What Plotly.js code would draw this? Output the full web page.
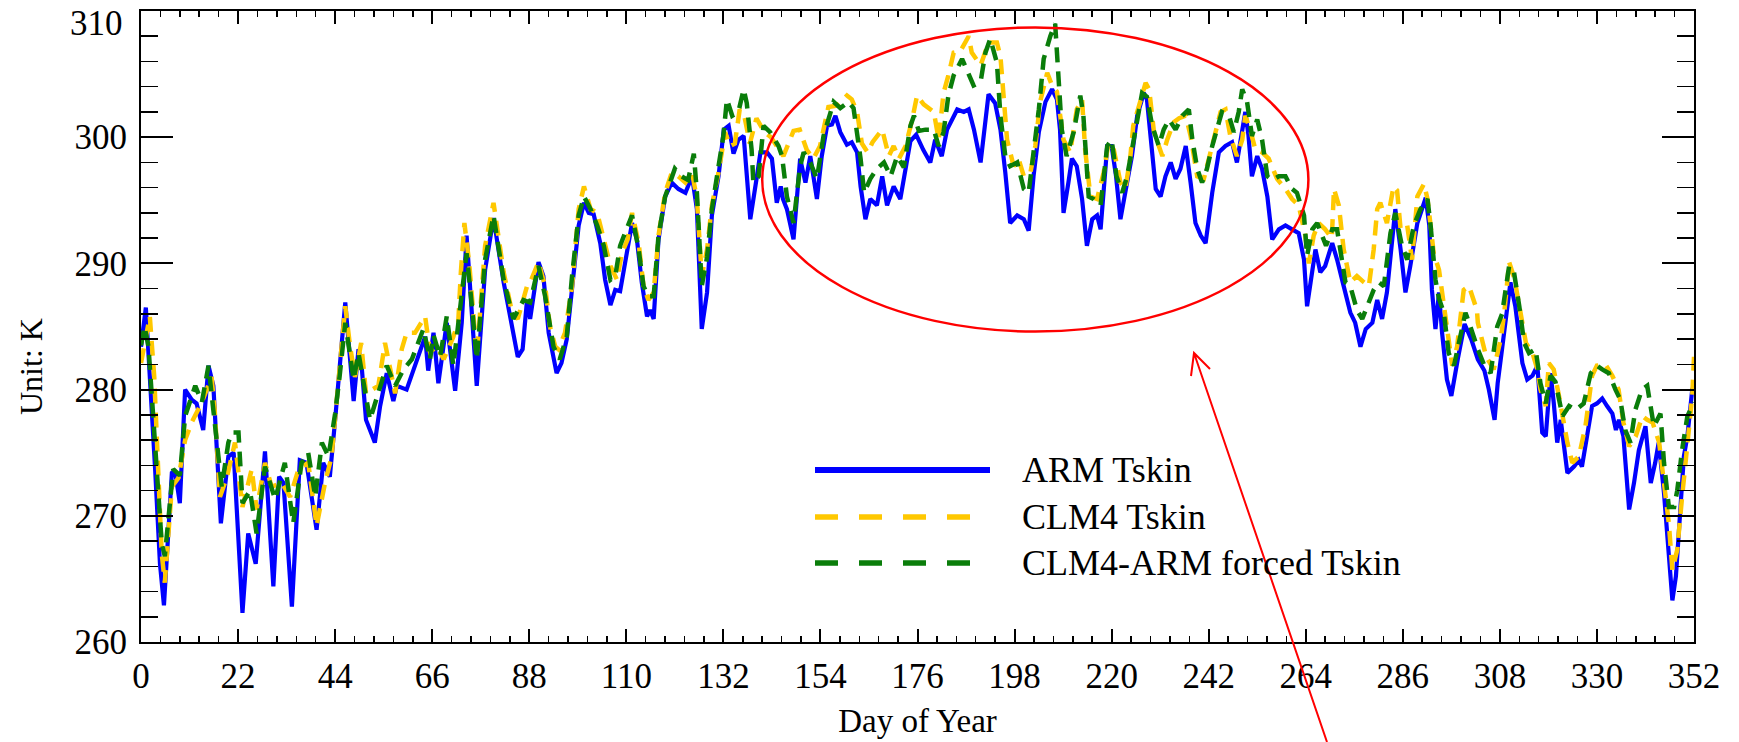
<!DOCTYPE html>
<html>
<head>
<meta charset="utf-8">
<script src="https://cdn.plot.ly/plotly-3.0.1.min.js"></script>
<style>html,body{margin:0;padding:0;background:#fff;}#chart{width:1739px;height:742px;}</style>
</head>
<body>
<div id="chart"></div>
<script>
// ---- Data ----
const seriesNames = ["ARM Tskin", "CLM4 Tskin", "CLM4-ARM forced Tskin"];

const armDay = [0,1.1,3.2,4.3,5.2,7.0,7.7,8.8,10.0,11.5,12.6,14.1,15.3,16.4,18.1,19.8,21.0,23.0,24.3,26.0,28.1,30.0,31.3,32.3,34.2,36.0,37.5,39.8,41.3,42.8,44.0,45.0,46.3,47.0,48.2,49.3,50.0,51.0,53.0,54.2,55.7,57.2,58.0,60.2,62.1,64.4,65.1,66.3,67.4,69.3,71.2,72.7,73.8,74.9,76.1,78.0,79.9,82.2,83.7,85.4,86.5,87.5,88.2,89.2,90.1,91.2,92.4,94.2,95.3,96.5,97.7,99.2,100.4,101.5,102.6,104.1,105.2,106.4,107.5,108.6,110.1,111.3,112.4,113.5,114.7,115.4,116.2,117.3,118.8,120.3,121.8,123.4,124.9,126.0,127.1,128.3,129.4,130.9,132.1,133.2,134.3,135.4,136.6,138.1,139.6,140.4,141.9,143.0,144.1,145.0,145.5,146.4,147.9,149.4,150.6,151.7,153.2,154.3,155.5,156.6,157.4,158.5,160.0,161.1,162.3,163.1,164.2,165.3,166.8,168.0,169.1,170.6,172.1,173.3,174.4,175.7,177.3,178.9,180.0,181.5,182.7,185.0,186.5,187.6,188.8,190.3,192.1,193.6,194.8,195.9,197.0,198.6,200.1,201.2,202.3,203.5,205.0,206.5,207.6,208.3,209.1,210.2,211.0,212.1,213.3,214.4,215.6,216.7,217.5,219.0,220.0,221.0,222.0,223.5,224.6,225.8,227.3,228.0,229.2,230.0,231.1,232.2,233.4,234.5,235.6,236.8,237.9,239.0,240.2,241.3,242.8,244.3,245.8,247.3,248.4,249.2,250.3,251.0,251.8,253.0,254.1,255.3,256.4,257.9,259.4,260.9,262.4,263.6,264.3,265.1,266.2,267.3,268.4,270.0,271.1,272.6,274.1,275.2,276.4,277.6,279.1,280.2,281.3,282.4,284.3,285.5,286.6,287.7,289.3,291.2,292.0,292.6,293.4,294.2,294.9,296.0,297.0,298.5,300.0,301.5,303.0,304.5,305.5,306.8,307.5,308.2,310.4,311.5,313.1,314.2,315.4,316.5,317.6,318.4,319.5,320.2,321.0,321.8,322.5,323.3,324.8,325.9,326.6,327.8,328.9,330.0,331.2,332.3,333.5,334.3,335.0,336.0,337.3,338.4,339.5,341.0,342.2,343.2,344.0,345.2,346.3,347.1,347.9,349.0,349.7,350.5,351.6,352.0];
const armT = [283.4,286.5,273.7,266.2,262.9,273.4,273.6,271.0,280.0,279.2,278.9,276.8,281.9,280.3,269.4,274.7,275.0,262.3,268.6,266.2,275.1,264.4,273.1,272.6,262.8,274.4,274.2,268.9,274.2,273.1,277.6,281.5,286.9,284.0,279.1,283.2,281.9,277.6,275.8,278.7,281.3,279.1,280.3,280.0,281.9,284.2,281.5,284.5,280.5,285.3,279.9,285.3,292.2,286.6,280.3,289.5,293.6,288.5,285.8,282.6,283.2,287.1,285.6,288.0,290.1,289.0,284.5,281.3,282.1,284.0,288.2,293.0,294.8,294.0,293.9,291.6,288.7,286.7,287.9,287.8,290.8,293.2,291.9,288.5,285.8,286.3,285.6,291.9,295.3,296.4,295.9,295.6,296.9,294.3,284.8,287.7,293.8,296.9,300.6,300.9,298.7,299.8,300.1,293.5,296.9,298.8,298.8,298.3,294.8,296.1,295.1,294.3,291.9,298.3,296.4,298.5,295.1,298.5,300.9,301.0,301.7,300.4,299.4,299.6,298.8,296.1,293.5,295.1,294.6,296.9,294.6,296.1,295.1,297.5,299.7,300.2,299.0,298.0,299.8,298.5,300.6,302.2,302.0,302.2,300.6,298.0,303.4,302.7,300.6,297.2,293.2,293.8,293.5,292.6,296.9,300.4,302.8,303.8,303.0,300.6,294.0,296.4,298.3,297.7,295.1,291.4,293.5,293.8,292.7,299.3,299.3,296.9,293.5,296.4,298.5,301.7,303.5,303.0,298.3,295.9,295.3,296.9,298.0,296.7,297.5,299.3,296.4,293.2,292.2,291.6,295.6,298.8,299.3,299.6,298.0,299.8,302.0,300.2,296.9,298.5,297.5,295.3,291.9,292.7,293.0,292.7,292.4,290.3,286.6,288.5,291.1,289.3,289.8,291.6,290.3,288.2,286.1,285.3,283.4,284.8,285.3,287.1,285.6,287.7,294.3,291.1,287.7,289.8,293.2,295.2,293.0,287.9,284.8,287.7,284.5,280.8,279.5,282.5,285.2,284.0,282.4,281.5,280.0,277.6,280.5,282.4,288.5,286.6,282.1,280.8,281.1,281.9,276.6,276.3,281.3,279.0,275.8,277.6,275.8,273.4,273.9,274.4,273.9,276.3,278.7,278.9,279.3,278.7,278.1,276.8,277.6,276.3,270.5,272.6,275.2,277.1,272.6,274.2,275.8,271.8,266.2,263.3,265.2,270.7,274.7,276.3,280.0,280.3];

const clmDay = [0,2.0,3.0,4.0,4.7,5.4,6.2,7.0,8.5,10.0,11.5,13.8,16.0,16.7,17.9,19.5,21.3,23.0,25.1,26.2,28.1,29.6,31.9,33.8,35.7,37.9,39.8,41.7,43.2,44.7,46.3,47.4,48.5,49.9,51.0,53.8,55.3,57.6,59.1,60.2,62.1,64.4,65.5,67.1,68.6,70.8,71.9,72.5,73.3,74.4,76.1,78.0,79.9,82.2,84.1,85.4,87.5,88.2,90.1,91.6,92.7,93.9,94.6,96.1,97.7,99.2,100.4,101.9,103.4,104.9,106.4,107.9,109.0,110.3,111.3,112.8,113.9,115.0,116.2,117.3,118.8,120.3,121.8,123.4,124.9,126.0,127.1,128.3,129.4,130.9,132.4,133.5,134.6,135.7,136.8,138.0,139.5,141.3,142.8,144.1,145.6,147.9,149.3,150.9,152.4,153.9,155.8,157.7,160.0,161.1,162.3,163.4,164.7,165.8,168.0,169.5,170.6,171.8,173.3,174.8,175.9,177.4,179.7,180.8,181.9,183.0,184.2,185.7,187.6,188.3,190.3,192.1,194.0,194.8,195.5,196.3,197.8,198.9,200.1,201.6,202.7,203.8,205.4,206.5,207.6,209.1,210.6,212.1,213.3,214.0,215.2,216.7,218.2,219.3,220.5,222.0,223.1,224.2,224.9,226.1,227.7,228.5,229.6,230.7,231.5,232.6,234.1,235.3,236.8,237.9,239.4,240.9,242.8,244.7,245.8,246.9,248.4,249.6,250.3,251.4,252.6,254.1,255.6,257.5,259.4,260.9,262.4,263.9,264.7,265.8,266.9,268.4,269.9,270.4,271.5,272.6,274.1,275.6,277.2,278.3,279.4,280.2,280.9,282.4,283.9,284.7,285.5,287.0,288.1,289.3,290.8,291.6,292.3,293.0,294.2,295.3,296.4,297.2,298.3,299.8,301.0,302.8,303.0,304.9,306.6,307.5,308.2,309.0,310.1,311.3,312.4,313.9,315.4,316.5,317.2,318.4,319.1,320.2,321.4,322.2,323.3,324.4,325.9,327.4,328.9,330.0,331.9,333.5,334.9,336.0,337.3,338.8,340.3,341.4,342.6,344.1,345.2,346.3,347.1,348.2,349.3,350.5,351.6,352.0];
const clmT = [282.1,285.8,281.0,273.0,267.0,264.7,268.4,272.3,273.0,276.0,277.4,279.0,281.0,278.4,271.5,273.1,275.8,270.7,273.7,270.5,274.2,272.3,272.6,271.5,273.7,274.2,269.2,272.6,274.7,280.3,286.6,283.4,281.0,283.7,279.7,280.3,283.7,279.7,283.2,284.5,284.5,285.8,283.0,283.4,282.4,284.2,285.3,289.3,293.2,290.0,282.6,291.4,294.8,289.3,286.1,285.6,288.2,288.5,290.1,288.2,285.0,283.4,283.2,284.5,288.2,294.3,296.1,294.3,294.0,291.9,289.8,288.7,290.8,291.9,294.0,291.6,288.2,287.1,287.7,292.2,295.6,297.2,296.9,296.4,297.2,295.1,289.0,291.1,294.6,297.2,300.4,299.3,299.5,302.2,301.6,299.5,301.5,300.4,300.0,299.3,298.5,300.5,300.6,299.0,298.3,299.3,302.4,302.5,303.3,303.0,302.0,299.5,298.8,299.6,300.6,298.5,299.3,298.3,299.3,301.4,303.3,302.6,302.0,299.8,303.5,304.9,306.7,306.8,308.0,306.7,305.7,307.5,307.5,306.4,302.8,299.8,297.7,298.3,296.9,297.2,299.3,302.8,305.1,304.1,303.6,299.8,298.8,302.2,303.0,299.0,295.3,295.1,297.2,299.6,299.0,296.4,295.9,298.3,300.9,302.5,304.3,303.8,300.4,299.3,298.5,299.8,301.2,301.5,301.7,300.1,296.9,296.7,299.3,302.0,302.2,300.1,298.5,299.8,301.7,300.6,299.0,298.8,298.3,296.7,295.9,295.1,294.6,292.2,290.0,292.2,293.2,292.7,292.0,295.9,294.6,291.1,288.5,289.0,288.5,288.2,291.1,294.3,294.8,293.2,296.1,295.8,292.7,293.0,290.3,295.3,296.3,295.1,293.0,290.8,289.5,286.6,283.4,281.9,283.4,287.9,288.2,286.3,285.3,282.6,281.6,283.0,284.0,286.1,290.1,288.8,286.6,283.7,282.9,281.6,280.0,278.7,282.1,281.6,279.5,277.9,275.8,274.2,274.7,277.1,281.1,281.9,282.0,281.1,280.0,277.4,275.5,276.3,277.9,277.6,277.4,275.8,272.6,269.4,265.7,267.3,271.5,275.8,279.5,282.6];

const frcDay = [0,0.8,1.7,3.2,4.7,5.4,6.2,7.3,8.8,10.0,12.3,13.8,15.3,16.8,18.3,19.8,20.6,22.1,23.0,24.7,26.2,28.1,30.4,32.6,34.5,36.4,37.9,39.5,41.0,42.5,44.0,45.0,46.3,48.2,49.3,51.9,53.8,55.7,57.6,59.5,61.4,64.0,65.5,66.3,67.8,69.3,70.8,72.3,73.8,74.9,76.1,78.0,79.9,82.2,84.4,86.7,88.2,90.1,91.6,93.5,94.9,96.5,97.7,99.2,100.4,101.9,103.4,104.9,106.4,107.5,108.6,109.8,111.3,112.8,113.9,115.0,116.2,117.3,118.8,121.0,122.5,124.0,125.3,126.0,127.1,128.3,129.4,130.9,132.0,132.8,134.0,135.4,136.6,137.3,138.4,138.8,140.0,141.1,142.6,144.5,145.3,146.4,147.9,149.4,150.2,151.7,153.2,154.7,157.0,158.5,160.4,161.5,163.1,163.9,165.3,166.8,168.4,169.9,171.4,172.9,174.4,175.2,176.3,177.8,179.7,180.8,181.9,183.0,184.2,186.1,187.6,188.7,190.3,191.4,192.5,194.0,194.8,195.9,197.0,198.6,200.1,201.2,202.3,203.5,204.6,206.1,207.2,208.0,208.7,209.8,211.4,212.9,213.6,214.8,215.9,217.5,219.0,220.0,221.1,222.4,223.5,224.6,225.8,226.9,228.0,229.2,230.7,231.8,233.0,234.5,236.0,237.5,238.3,239.4,240.5,241.6,242.8,243.9,245.0,246.6,247.7,248.8,249.6,250.7,251.8,253.0,254.1,255.3,256.4,257.9,259.4,260.9,262.0,263.6,264.3,265.5,266.6,268.6,270.0,271.1,271.9,273.0,274.1,275.6,276.8,277.9,279.4,280.6,281.7,283.2,284.3,285.8,287.0,288.5,290.0,291.6,292.3,293.4,294.2,295.3,296.4,297.6,299.1,300.2,301.3,303.0,304.5,305.9,307.4,308.5,310.1,311.2,312.4,313.5,314.6,316.1,317.2,318.4,319.5,320.6,322.2,323.7,325.2,327.0,328.6,330.0,331.2,332.7,334.2,335.3,336.4,337.6,338.7,340.2,341.4,342.9,344.4,345.2,346.3,347.5,348.2,349.3,350.5,351.6,352.0];
const frcT = [283.5,285.0,283.4,276.0,267.8,266.8,269.4,273.7,273.2,277.9,280.3,279.0,281.9,277.1,272.3,275.8,276.6,276.6,271.0,272.0,268.6,273.9,271.3,274.2,269.4,274.2,275.0,271.5,275.8,274.7,278.1,281.0,285.3,280.8,282.9,277.6,279.7,281.9,280.3,281.6,282.4,284.8,282.4,284.3,282.6,285.8,281.9,286.5,290.8,287.0,282.4,290.3,293.8,288.7,285.6,287.1,286.9,289.8,287.4,283.4,282.4,284.2,289.0,293.8,295.3,294.3,293.0,291.4,288.7,289.0,291.4,292.5,293.8,291.1,288.2,287.4,287.4,292.2,295.3,297.5,296.9,296.6,298.7,295.6,288.2,290.5,294.3,297.7,300.1,303.0,301.7,302.0,303.8,302.7,299.0,296.4,296.9,300.9,300.4,299.3,298.5,295.3,293.2,297.7,298.8,298.0,296.7,300.1,302.8,302.3,302.8,302.3,298.3,295.6,296.7,297.5,298.0,296.9,298.5,297.6,300.9,301.7,300.5,300.6,300.6,299.3,300.4,303.3,304.9,306.2,304.9,304.1,304.4,306.7,307.8,305.9,301.7,298.5,297.7,298.0,295.9,295.6,298.8,302.2,306.2,308.0,309.0,305.0,300.6,298.5,300.4,303.3,301.7,295.3,295.1,294.6,299.3,299.8,296.9,295.6,296.9,299.0,301.4,303.5,303.2,300.9,299.3,300.6,301.4,300.6,301.7,302.2,299.8,297.5,296.4,297.5,299.3,300.6,302.0,301.7,300.4,302.0,303.8,302.8,300.1,301.4,299.8,296.9,296.6,296.9,296.9,295.9,295.6,293.8,290.6,292.7,293.2,291.4,292.7,292.7,291.1,288.5,288.2,286.3,285.6,286.6,287.9,288.5,288.2,292.4,294.0,291.4,290.3,293.0,294.3,295.1,293.0,288.7,287.2,286.1,282.9,281.9,284.5,286.1,285.0,283.2,281.9,281.3,285.0,286.0,289.8,289.3,286.6,283.7,282.9,283.2,280.5,278.9,281.1,280.6,277.9,278.7,278.4,278.9,281.3,281.9,281.6,281.3,280.0,279.2,276.8,275.8,278.4,280.0,280.3,277.1,278.1,274.2,270.7,270.7,272.0,275.2,277.9,278.7,279.0];

const xTickStep = 22;
const yTickStep = 10;
const yTopLabel = "310";

// ---- Plot ----
const traces = [
  {x: armDay, y: armT, name: seriesNames[0], mode: "lines", line: {color: "#0000FF", width: 4.2}},
  {x: clmDay, y: clmT, name: seriesNames[1], mode: "lines", line: {color: "#FFC800", width: 4.5, dash: "15px,9px"}},
  {x: frcDay, y: frcT, name: seriesNames[2], mode: "lines", line: {color: "#0A7D0A", width: 4.5, dash: "15px,9px"}}
];

const FONT = "Liberation Serif, Times New Roman, serif";
const L = 141, R = 1694, T = 11, B = 642;
const px = X => (X - L) / (R - L);
const py = Y => (B - Y) / (B - T);

// custom legend (lines + labels)
const legendRows = [
  {Y: 470, color: "#0000FF", width: 6, dash: "solid", x1: 990},
  {Y: 517, color: "#FFC800", width: 5.5, dash: "23px,21px", x1: 972},
  {Y: 563, color: "#0A7D0A", width: 5.5, dash: "23px,21px", x1: 972}
];
const shapes = legendRows.map(r => ({
  type: "line", xref: "paper", yref: "paper",
  x0: px(815), x1: px(r.x1), y0: py(r.Y), y1: py(r.Y),
  line: {color: r.color, width: r.width, dash: r.dash}
}));
// highlight ellipse
shapes.push({type: "circle", xref: "x", yref: "y", x0: 140.8, x1: 264.6, y0: 284.6, y1: 308.7,
  line: {color: "#FF0000", width: 2.5}});
// arrow (shaft + open head)
const hx = px(1194), hy = py(353);
shapes.push({type: "path", xref: "paper", yref: "paper",
  path: `M ${px(1327)} ${py(742)} L ${hx} ${hy} M ${px(1191)} ${py(376)} L ${hx} ${hy} L ${px(1210)} ${py(369)}`,
  line: {color: "#FF0000", width: 2}});

const annotations = legendRows.map((r, i) => ({
  xref: "paper", yref: "paper", x: px(1020), y: py(r.Y), xanchor: "left", yanchor: "middle",
  text: seriesNames[i], showarrow: false, font: {family: FONT, size: 36, color: "#000"}
}));
annotations.push({xref: "paper", yref: "paper", x: px(31), y: py(366), xanchor: "center", yanchor: "middle",
  text: "Unit: K", textangle: -90, showarrow: false, font: {family: FONT, size: 32, color: "#000"}});
// top y tick label (shifted down in the reference so it fits the frame)
annotations.push({xref: "paper", yref: "paper", x: px(125), y: py(23), xanchor: "right", yanchor: "middle",
  text: yTopLabel, showarrow: false, font: {family: FONT, size: 35, color: "#000"}});

const layout = {
  width: 1739, height: 742,
  margin: {l: L, r: 1739 - R, t: T, b: 742 - B},
  paper_bgcolor: "#fff", plot_bgcolor: "#fff",
  showlegend: false,
  font: {family: FONT, size: 32, color: "#000"},
  xaxis: {
    range: [0, 352], tick0: 0, dtick: xTickStep, ticks: "inside", ticklen: 13, tickwidth: 2, tickcolor: "#000",
    minor: {dtick: xTickStep / 5, tick0: 0, ticks: "inside", ticklen: 6, tickwidth: 1.5, tickcolor: "#000"},
    showline: true, linewidth: 2, linecolor: "#000", mirror: "ticks",
    showgrid: false, zeroline: false,
    tickfont: {family: FONT, size: 35, color: "#000"}, ticklabelstandoff: 2,
    title: {text: "Day of Year", font: {family: FONT, size: 33, color: "#000"}, standoff: 14}
  },
  yaxis: {
    range: [260, 310], tick0: 260, dtick: yTickStep, ticks: "inside", ticklen: 32, tickwidth: 2, tickcolor: "#000",
    minor: {dtick: 2, tick0: 260, ticks: "inside", ticklen: 17, tickwidth: 1.5, tickcolor: "#000"},
    showline: true, linewidth: 2, linecolor: "#000", mirror: "ticks",
    showgrid: false, zeroline: false,
    tickfont: {family: FONT, size: 35, color: "#000"}, ticklabelstandoff: 5
  },
  shapes: shapes,
  annotations: annotations
};

Plotly.newPlot("chart", traces, layout, {displayModeBar: false, staticPlot: true});
</script>
</body>
</html>
